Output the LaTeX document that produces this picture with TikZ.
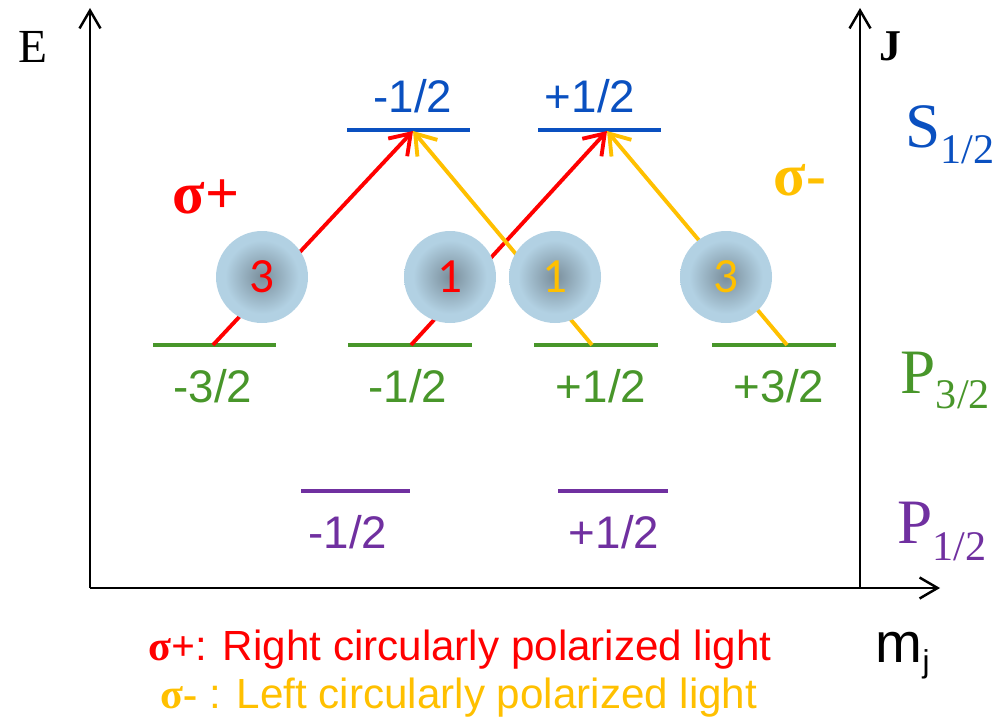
\documentclass[tikz,border=0pt]{standalone}
\usepackage{fontspec}
\setmainfont{Liberation Serif}
\setsansfont{Liberation Sans}
\newfontfamily\carlito{Carlito}
\usetikzlibrary{arrows.meta}

\definecolor{sred}{HTML}{FF0000}
\definecolor{syel}{HTML}{FFC000}
\definecolor{sblue}{HTML}{0A50C0}
\definecolor{pgreen}{HTML}{48962A}
\definecolor{ppurple}{HTML}{7030A0}
\definecolor{ballin}{HTML}{7A8E9B}
\definecolor{ballout}{HTML}{B2D1E3}
\pgfdeclareradialshading{ballshade}{\pgfpoint{0cm}{0cm}}{color(0bp)=(ballin); color(20bp)=(ballout); color(25bp)=(ballout); color(50bp)=(ballout)}

\begin{document}
\begin{tikzpicture}[
    axis/.style={line width=0.7pt,-{Straight Barb[length=1.8mm,width=2.1mm]}},
    level/.style={line width=1.15pt},
    trans/.style={line width=1.1pt,-{Straight Barb[length=1.9mm,width=2.6mm]}},
    ball/.style={circle,minimum size=0.92cm,inner sep=0pt,shading=ballshade,font=\carlito\fontsize{14}{16}\selectfont},
    mlabel/.style={anchor=base,inner sep=0pt,font=\sffamily\fontsize{13}{15}\selectfont},
    term/.style={anchor=base west,inner sep=0pt}
  ]
  \useasboundingbox (0,0) rectangle (9.97,7.21);
  % 坐标轴
  \coordinate (o) at (0.90,1.33);
  \coordinate (etop) at (0.90,7.13);
  \coordinate (jbot) at (8.60,1.33);
  \coordinate (jtop) at (8.60,7.13);
  \coordinate (mend) at (9.40,1.33);
  \draw[axis] (o) -- (etop);
  \draw[axis] (jbot) -- (jtop);
  \draw[axis] (o) -- (mend);
  \node[term,font=\fontsize{13.5}{15}\selectfont] (E) at (0.18,6.58) {E};
  \node[term,font=\bfseries\fontsize{12.5}{15}\selectfont] (J) at (8.79,6.60) {J};
  \node[term,font=\sffamily] (mj) at (8.75,0.59)
    {\fontsize{16}{18}\selectfont m\raisebox{-0.10cm}{\fontsize{9}{10}\selectfont j}};
  % 能级 S1/2
  \draw[level,sblue] (3.47,5.91) -- (4.70,5.91);
  \draw[level,sblue] (5.38,5.91) -- (6.61,5.91);
  \node[mlabel,sblue] (sa) at (4.13,6.09) {-1/2};
  \node[mlabel,sblue] (sb) at (5.90,6.09) {+1/2};
  % 能级 P3/2
  \draw[level,pgreen] (1.53,3.76) -- (2.76,3.76);
  \draw[level,pgreen] (3.48,3.76) -- (4.72,3.76);
  \draw[level,pgreen] (5.34,3.76) -- (6.58,3.76);
  \draw[level,pgreen] (7.12,3.76) -- (8.36,3.76);
  \node[mlabel,pgreen] (pa) at (2.13,3.19) {-3/2};
  \node[mlabel,pgreen] (pb) at (4.08,3.19) {-1/2};
  \node[mlabel,pgreen] (pc) at (6.01,3.19) {+1/2};
  \node[mlabel,pgreen] (pd) at (7.79,3.19) {+3/2};
  % 能级 P1/2
  \draw[level,ppurple,line width=0.9pt] (3.01,2.30) -- (4.10,2.30);
  \draw[level,ppurple,line width=0.9pt] (5.58,2.30) -- (6.68,2.30);
  \node[mlabel,ppurple] (qa) at (3.48,1.73) {-1/2};
  \node[mlabel,ppurple] (qb) at (6.14,1.73) {+1/2};
  % 右侧项符号
  \node[term,sblue] (S12) at (9.05,5.74)
    {\fontsize{18}{20}\selectfont S\raisebox{-0.16cm}{\fontsize{12}{14}\selectfont 1/2}};
  \node[term,pgreen] (P32) at (9.00,3.28)
    {\fontsize{18}{20}\selectfont P\raisebox{-0.15cm}{\fontsize{12}{14}\selectfont 3/2}};
  \node[term,ppurple] (P12) at (8.97,1.78)
    {\fontsize{18}{20}\selectfont P\raisebox{-0.17cm}{\fontsize{12}{14}\selectfont 1/2}};
  % 跃迁
  \coordinate (g1) at (2.13,3.76);
  \coordinate (g2) at (4.11,3.76);
  \coordinate (g3) at (5.92,3.76);
  \coordinate (g4) at (7.87,3.76);
  \coordinate (s1) at (4.13,5.90);
  \coordinate (s2) at (6.07,5.90);
  \draw[trans,sred] (g1) -- (s1);
  \draw[trans,sred] (g2) -- (s2);
  \draw[trans,syel] (g3) -- (s1);
  \draw[trans,syel] (g4) -- (s2);
  \node[term,sred,font=\bfseries\fontsize{17}{19}\selectfont] (sp) at (1.72,5.08) {σ+};
  \node[term,syel,font=\bfseries\fontsize{17}{19}\selectfont] (sm) at (7.73,5.26) {σ-};
  % 相对强度
  \node[ball,sred] (b1) at (2.62,4.44) {3};
  \node[ball,sred] (b2) at (4.50,4.44) {1};
  \node[ball,syel] (b3) at (5.55,4.44) {1};
  \node[ball,syel] (b4) at (7.26,4.44) {3};
  % 图例
  \node[anchor=base,inner sep=0pt,sred,font=\sffamily\fontsize{12}{14}\selectfont] (leg1) at (4.60,0.61)
    {{\rmfamily\bfseries σ+}: Right circularly polarized light};
  \node[anchor=base,inner sep=0pt,syel,font=\sffamily\fontsize{12}{14}\selectfont] (leg2) at (4.59,0.13)
    {{\rmfamily\bfseries σ-} : Left circularly polarized light};
\end{tikzpicture}
\end{document}
